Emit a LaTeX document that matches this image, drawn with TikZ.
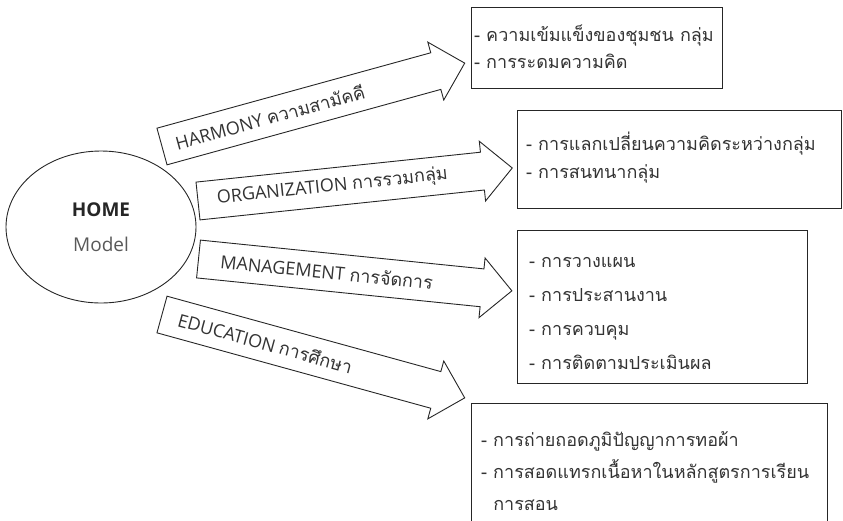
\documentclass[tikz,border=0pt]{standalone}
\usepackage{fontspec}
\setmainfont{Open Sans}
\newfontfamily\thaifont[Script=Thai]{Loma}
\usetikzlibrary{shapes.geometric}
\tikzstyle{model}=[ellipse,draw=black!85,line width=0.9pt,minimum width=190pt,minimum height=152pt,inner sep=0pt,align=center]
\tikzstyle{blockarrow}=[draw=black!85,line width=0.9pt,fill=white,line join=miter]
\tikzstyle{armlabel}=[anchor=west,text=black!80,inner sep=0pt,font=\fontsize{18}{20}\selectfont]
\tikzstyle{listbox}=[draw=black!85,line width=0.9pt,anchor=north west,inner sep=0pt]
\tikzstyle{listtext}=[anchor=west,inner sep=0pt,align=left,text=black!80]

\begin{document}
\begin{tikzpicture}[x=1pt,y=-1pt]
  \useasboundingbox (0,0) rectangle (843,520);

  % model
  \node[model,font=\fontsize{19}{35}\selectfont] (home) at (101,227)
     {\textcolor{black!85}{\bfseries HOME}\\\textcolor{black!65}{Model}};

  % tails of the four arms
  \coordinate (tail1) at (162,146.5);
  \coordinate (tail2) at (198,201);
  \coordinate (tail3) at (198.5,259);
  \coordinate (tail4) at (162,314.5);

  % arms
  \foreach \n/\ang/\len/\off/\lbl in {1/15.4/314/14/{HARMONY {\thaifont ความสามัคคี}},
                                      2/6/316/19/{ORGANIZATION {\thaifont การรวมกลุ่ม}},
                                      3/-5.8/315/22/{MANAGEMENT {\thaifont การจัดการ}},
                                      4/-15.4/314/17/{EDUCATION {\thaifont การศึกษา}}}
  {
    \begin{scope}[shift={(tail\n)},rotate=\ang]
      \draw[blockarrow] (0,-19) -- (\len-30,-19) -- (\len-30,-30) -- (\len,0)
                        -- (\len-30,30) -- (\len-30,19) -- (0,19) -- cycle;
      \node[armlabel,rotate=\ang] (arm\n) at (\off,0) {\lbl};
    \end{scope}
  }

  % boxes
  \node[listbox,minimum width=251pt,minimum height=81pt] (box1) at (471,7) {};
  \node[listbox,minimum width=324pt,minimum height=98pt] (box2) at (517,110) {};
  \node[listbox,minimum width=290pt,minimum height=153pt] (box3) at (517,230) {};
  \node[listbox,minimum width=356pt,minimum height=130pt] (box4) at (471,403) {};

  % lists
  \node[listtext,font=\fontsize{18}{27}\selectfont\thaifont] (list1) at (474,46.5)
     {- ความเข้มแข็งของชุมชน กลุ่ม\\- การระดมความคิด};
  \node[listtext,font=\fontsize{18}{28}\selectfont\thaifont] (list2) at (526,158)
     {- การแลกเปลี่ยนความคิดระหว่างกลุ่ม\\- การสนทนากลุ่ม};
  \node[listtext,font=\fontsize{18}{34}\selectfont\thaifont] (list3) at (529,313.5)
     {- การวางแผน\\- การประสานงาน\\- การควบคุม\\- การติดตามประเมินผล};
  \node[listtext,font=\fontsize{18}{32}\selectfont\thaifont] (list4) at (481,471)
     {- การถ่ายถอดภูมิปัญญาการทอผ้า\\- การสอดแทรกเนื้อหาในหลักสูตรการเรียน\\\phantom{- }การสอน};
\end{tikzpicture}
\end{document}
